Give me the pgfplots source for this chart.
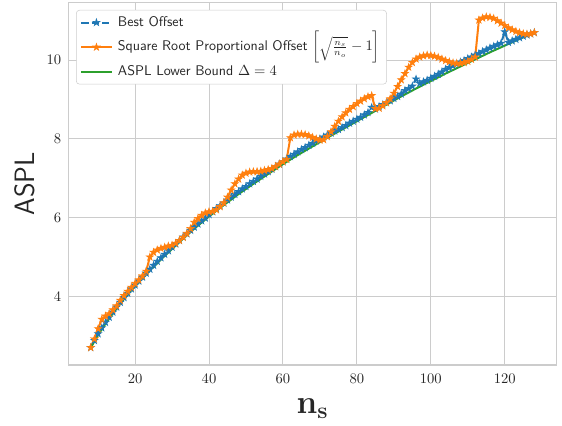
\documentclass[border=0pt]{standalone}
\usepackage{pgfplots}
\pgfplotsset{compat=1.18}
\definecolor{tabblue}{HTML}{1F77B4}
\definecolor{taborange}{HTML}{FF7F0E}
\definecolor{tabgreen}{HTML}{2CA02C}
\definecolor{gridgray}{HTML}{CCCCCC}
\definecolor{txtgray}{HTML}{262626}
\pgfdeclareplotmark{fstar}{%
 \pgfpathmoveto{\pgfpointpolar{90}{\pgfplotmarksize}}%
 \pgfpathlineto{\pgfpointpolar{126}{0.38\pgfplotmarksize}}%
 \pgfpathlineto{\pgfpointpolar{162}{\pgfplotmarksize}}%
 \pgfpathlineto{\pgfpointpolar{198}{0.38\pgfplotmarksize}}%
 \pgfpathlineto{\pgfpointpolar{234}{\pgfplotmarksize}}%
 \pgfpathlineto{\pgfpointpolar{270}{0.38\pgfplotmarksize}}%
 \pgfpathlineto{\pgfpointpolar{306}{\pgfplotmarksize}}%
 \pgfpathlineto{\pgfpointpolar{342}{0.38\pgfplotmarksize}}%
 \pgfpathlineto{\pgfpointpolar{18}{\pgfplotmarksize}}%
 \pgfpathlineto{\pgfpointpolar{54}{0.38\pgfplotmarksize}}%
 \pgfpathclose
 \pgfusepathqfillstroke}
\begin{document}
\begin{tikzpicture}
\begin{axis}[
 scale only axis, width=366pt, height=271.7pt,
 xmin=2, xmax=134, ymin=2.26, ymax=11.46,
 xtick={20,40,60,80,100,120}, ytick={4,6,8,10},
 grid=major, major grid style={gridgray, line width=0.75pt},
 axis line style={gridgray, line width=1pt},
 major tick length=0pt,
 tick label style={font=\fontsize{10.5}{12}\selectfont, text=txtgray},
 xticklabel style={yshift=-3pt}, yticklabel style={xshift=-2pt},
 xlabel={$\mathbf{n_s}$},
 xlabel style={at={(axis description cs:0.5,-0.135)}, anchor=base, font=\fontsize{24}{28}\selectfont, text=txtgray},
 ylabel={ASPL},
 ylabel style={at={(axis description cs:-0.089,0.5)}, anchor=center, font=\sffamily\fontsize{21}{24}\selectfont, text=txtgray},
 legend style={at={(axis description cs:0.0153,0.98)}, anchor=north west, draw=gridgray, rounded corners=2.5pt, fill=white, font=\sffamily\fontsize{10.5}{12.5}\selectfont, text=txtgray, inner xsep=3pt, inner ysep=2pt, row sep=4pt, column sep=2pt, nodes={text height=8pt, text depth=2.5pt}},
 legend cell align=left,
 legend image code/.code={\draw[mark repeat=2,mark phase=2] plot coordinates {(0cm,0cm) (0.4cm,0cm) (0.8cm,0cm)};},
]
\addplot[tabblue, line width=1.5pt, dash pattern=on 5.5pt off 2.3pt, mark=fstar, mark size=2.7pt, mark options={solid, line width=0.5pt, fill=tabblue}] coordinates {
(8,2.70)(9,2.88)(10,3.05)(11,3.20)(12,3.34)(13,3.47)(14,3.60)(15,3.73)(16,3.85)(17,3.97)
(18,4.08)(19,4.19)(20,4.29)(21,4.39)(22,4.49)(23,4.59)(24,4.69)(25,4.79)(26,4.89)(27,4.98)
(28,5.07)(29,5.16)(30,5.25)(31,5.33)(32,5.42)(33,5.51)(34,5.59)(35,5.68)(36,5.76)(37,5.84)
(38,5.92)(39,5.99)(40,6.08)(41,6.15)(42,6.23)(43,6.30)(44,6.37)(45,6.45)(46,6.52)(47,6.59)
(48,6.66)(49,6.73)(50,6.79)(51,6.86)(52,6.92)(53,6.98)(54,7.05)(55,7.11)(56,7.17)(57,7.23)
(58,7.30)(59,7.36)(60,7.42)(61,7.49)(62,7.55)(63,7.61)(64,7.67)(65,7.73)(66,7.78)(67,7.84)
(68,7.89)(69,7.95)(70,8.00)(71,8.05)(72,8.10)(73,8.15)(74,8.20)(75,8.24)(76,8.29)(77,8.34)
(78,8.40)(79,8.45)(80,8.50)(81,8.55)(82,8.61)(83,8.67)(84,8.80)(85,8.76)(86,8.82)(87,8.87)
(88,8.92)(89,8.97)(90,9.03)(91,9.08)(92,9.14)(93,9.23)(94,9.28)(95,9.34)(96,9.52)(97,9.41)
(98,9.45)(99,9.49)(100,9.54)(101,9.59)(102,9.64)(103,9.70)(104,9.77)(105,9.81)(106,9.86)(107,9.90)
(108,9.95)(109,9.99)(110,10.04)(111,10.08)(112,10.13)(113,10.17)(114,10.22)(115,10.26)(116,10.31)(117,10.35)
(118,10.39)(119,10.43)(120,10.72)(121,10.45)(122,10.49)(123,10.53)(124,10.57)(125,10.61)(126,10.64)(127,10.67)
(128,10.70)};
\addlegendentry{Best Offset}
\addplot[taborange, line width=1.5pt, mark=fstar, mark size=2.7pt, mark options={solid, line width=0.5pt, fill=taborange}] coordinates {
(8,2.70)(9,2.92)(10,3.18)(11,3.42)(12,3.50)(13,3.56)(14,3.66)(15,3.76)(16,3.90)(17,4.02)
(18,4.13)(19,4.23)(20,4.33)(21,4.42)(22,4.52)(23,4.64)(24,5.00)(25,5.12)(26,5.18)(27,5.22)
(28,5.25)(29,5.28)(30,5.30)(31,5.35)(32,5.42)(33,5.50)(34,5.60)(35,5.72)(36,5.88)(37,5.98)
(38,6.06)(39,6.12)(40,6.15)(41,6.16)(42,6.20)(43,6.28)(44,6.38)(45,6.52)(46,6.70)(47,6.86)
(48,6.98)(49,7.08)(50,7.13)(51,7.16)(52,7.17)(53,7.17)(54,7.18)(55,7.20)(56,7.22)(57,7.25)
(58,7.30)(59,7.36)(60,7.42)(61,7.48)(62,8.03)(63,8.10)(64,8.12)(65,8.12)(66,8.11)(67,8.08)
(68,8.04)(69,8.00)(70,7.97)(71,7.98)(72,8.06)(73,8.18)(74,8.32)(75,8.45)(76,8.56)(77,8.66)
(78,8.75)(79,8.82)(80,8.90)(81,8.96)(82,9.02)(83,9.07)(84,9.10)(85,8.77)(86,8.78)(87,8.84)
(88,8.92)(89,9.02)(90,9.16)(91,9.33)(92,9.50)(93,9.66)(94,9.82)(95,9.94)(96,10.03)(97,10.08)
(98,10.11)(99,10.13)(100,10.12)(101,10.10)(102,10.07)(103,10.03)(104,9.99)(105,9.96)(106,9.93)(107,9.92)
(108,9.92)(109,9.94)(110,9.97)(111,10.02)(112,10.08)(113,11.02)(114,11.07)(115,11.10)(116,11.09)(117,11.06)
(118,11.00)(119,10.94)(120,10.88)(121,10.82)(122,10.77)(123,10.73)(124,10.70)(125,10.67)(126,10.66)(127,10.67)
(128,10.70)};
\addlegendentry{Square Root Proportional Offset $\left[\sqrt{\frac{n_s}{n_o}}-1\right]$}
\addplot[tabgreen, line width=1.5pt] coordinates {
(8,2.70)(10,3.02)(12,3.31)(14,3.57)(16,3.82)(18,4.05)(20,4.26)(24,4.66)(28,5.03)(32,5.38)
(36,5.72)(40,6.03)(44,6.32)(48,6.60)(52,6.86)(56,7.11)(60,7.36)(64,7.59)(68,7.81)(72,8.03)
(76,8.24)(80,8.45)(84,8.66)(88,8.87)(92,9.08)(96,9.28)(100,9.47)(104,9.66)(108,9.84)(112,10.02)
(116,10.20)(120,10.37)(124,10.54)(128,10.70)};
\addlegendentry{ASPL Lower Bound $\Delta=4$}
\end{axis}
\pgfresetboundingbox
\path[use as bounding box] (-51.4pt,-45.75pt) rectangle (370.1pt,273.7pt);
\end{tikzpicture}
\end{document}
